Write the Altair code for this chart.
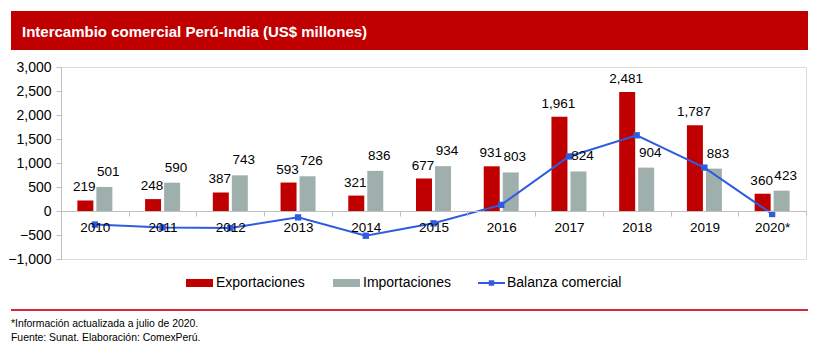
import altair as alt
import pandas as pd

years = ["2010", "2011", "2012", "2013", "2014", "2015", "2016", "2017", "2018", "2019", "2020*"]
exportaciones = [219, 248, 387, 593, 321, 677, 931, 1961, 2481, 1787, 360]
importaciones = [501, 590, 743, 726, 836, 934, 803, 824, 904, 883, 423]
balanza = [-282, -342, -356, -133, -515, -257, 128, 1137, 1577, 904, -63]
series = ["Exportaciones", "Importaciones"]
legend_labels = ["Exportaciones", "Importaciones", "Balanza comercial"]
title_text = "Intercambio comercial Perú-India (US$ millones)"
notes = ["*Información actualizada a julio de 2020.", "Fuente: Sunat. Elaboración: ComexPerú."]

RED = "#c00000"
GREY = "#9fb0ac"
BLUE = "#2f5be0"
AXC = "#bfbfbf"
FONT = "Liberation Sans"

long_df = pd.DataFrame(
    [{"year": y, "serie": series[0], "value": v} for y, v in zip(years, exportaciones)]
    + [{"year": y, "serie": series[1], "value": v} for y, v in zip(years, importaciones)]
)
bal_df = pd.DataFrame({"year": years, "value": balanza})
one = pd.DataFrame({"k": [0]})

x_enc = alt.X(
    "year:N", sort=years,
    scale=alt.Scale(paddingInner=0, paddingOuter=0),
    axis=alt.Axis(title=None, labelAngle=0, tickBand="extent", offset=-48,
                  domainColor=AXC, tickColor=AXC, tickSize=5, labelFontSize=13.5,
                  labelColor="black", labelPadding=4, labelFont=FONT, zindex=1),
)
xo_enc = alt.XOffset("serie:N", sort=series,
                     scale=alt.Scale(paddingInner=0.158, paddingOuter=0.861))
y_enc = alt.Y(
    "value:Q",
    scale=alt.Scale(domain=[-1000, 3000], nice=False, zero=False),
    axis=alt.Axis(values=list(range(-1000, 3001, 500)), format=",d", grid=False, title=None,
                  domainColor=AXC, tickColor=AXC, tickSize=5, labelFontSize=14,
                  labelPadding=5, labelColor="black", labelFont=FONT, labelOverlap=False),
)

bars = alt.Chart(long_df).mark_bar().encode(
    x=x_enc, xOffset=xo_enc, y=y_enc,
    color=alt.Color("serie:N", scale=alt.Scale(domain=series, range=[RED, GREY]), legend=None),
)
lab_exp = alt.Chart(long_df).transform_filter(alt.datum.serie == series[0]).mark_text(
    baseline="bottom", dy=-6, dx=-1, fontSize=13.5, font=FONT, color="black").encode(
    x=x_enc, xOffset=xo_enc, y=y_enc, text=alt.Text("value:Q", format=","))
lab_imp = alt.Chart(long_df).transform_filter(alt.datum.serie == series[1]).mark_text(
    baseline="bottom", dy=-8, dx=4, fontSize=13.5, font=FONT, color="black").encode(
    x=x_enc, xOffset=xo_enc, y=y_enc, text=alt.Text("value:Q", format=","))
line = alt.Chart(bal_df).mark_line(
    color=BLUE, strokeWidth=2,
    point=alt.OverlayMarkDef(shape="square", size=40, filled=True, color=BLUE),
).encode(x=x_enc, y=y_enc)

# Title bar
title_bar = alt.Chart(one).mark_rect(color=RED).encode(
    x=alt.value(-50), x2=alt.value(747), y=alt.value(-56), y2=alt.value(-17))
title = alt.Chart(one).mark_text(align="left", baseline="middle", fontSize=15, fontWeight="bold",
                                 font=FONT, color="white").encode(
    x=alt.value(-39), y=alt.value(-35), text=alt.value(title_text))

# Legend
leg_r1 = alt.Chart(one).mark_rect(color=RED).encode(
    x=alt.value(125), x2=alt.value(152), y=alt.value(212), y2=alt.value(220))
leg_r2 = alt.Chart(one).mark_rect(color=GREY).encode(
    x=alt.value(272), x2=alt.value(299), y=alt.value(212), y2=alt.value(220))
leg_l = alt.Chart(one).mark_rule(color=BLUE, strokeWidth=2).encode(
    x=alt.value(417), x2=alt.value(444), y=alt.value(216))
leg_p = alt.Chart(one).mark_square(color=BLUE, size=30, opacity=1).encode(
    x=alt.value(430.5), y=alt.value(216))
leg_t = [
    alt.Chart(one).mark_text(align="left", baseline="middle", fontSize=14, font=FONT, color="black").encode(
        x=alt.value(xv), y=alt.value(216), text=alt.value(t))
    for xv, t in zip([155, 302, 446], legend_labels)
]

# Separator and notes
sep = alt.Chart(one).mark_rule(color="#d9263f", strokeWidth=2).encode(
    x=alt.value(-50), x2=alt.value(747), y=alt.value(243))
note_t = [
    alt.Chart(one).mark_text(align="left", baseline="middle", fontSize=10.4, font=FONT, color="black").encode(
        x=alt.value(-50), y=alt.value(yv), text=alt.value(t))
    for yv, t in zip([257, 271], notes)
]

chart = alt.layer(
    bars, line, lab_exp, lab_imp, title_bar, title, leg_r1, leg_r2, leg_l, leg_p, *leg_t, sep, *note_t
).properties(
    width=745, height=192,
    padding={"left": 61, "top": 67, "right": 14, "bottom": 94},
    autosize=alt.AutoSizeParams(type="none"),
    background="white",
).configure_view(stroke=None).configure(font=FONT)

chart.save("out.html", embed_options={"renderer": "svg", "actions": False})
